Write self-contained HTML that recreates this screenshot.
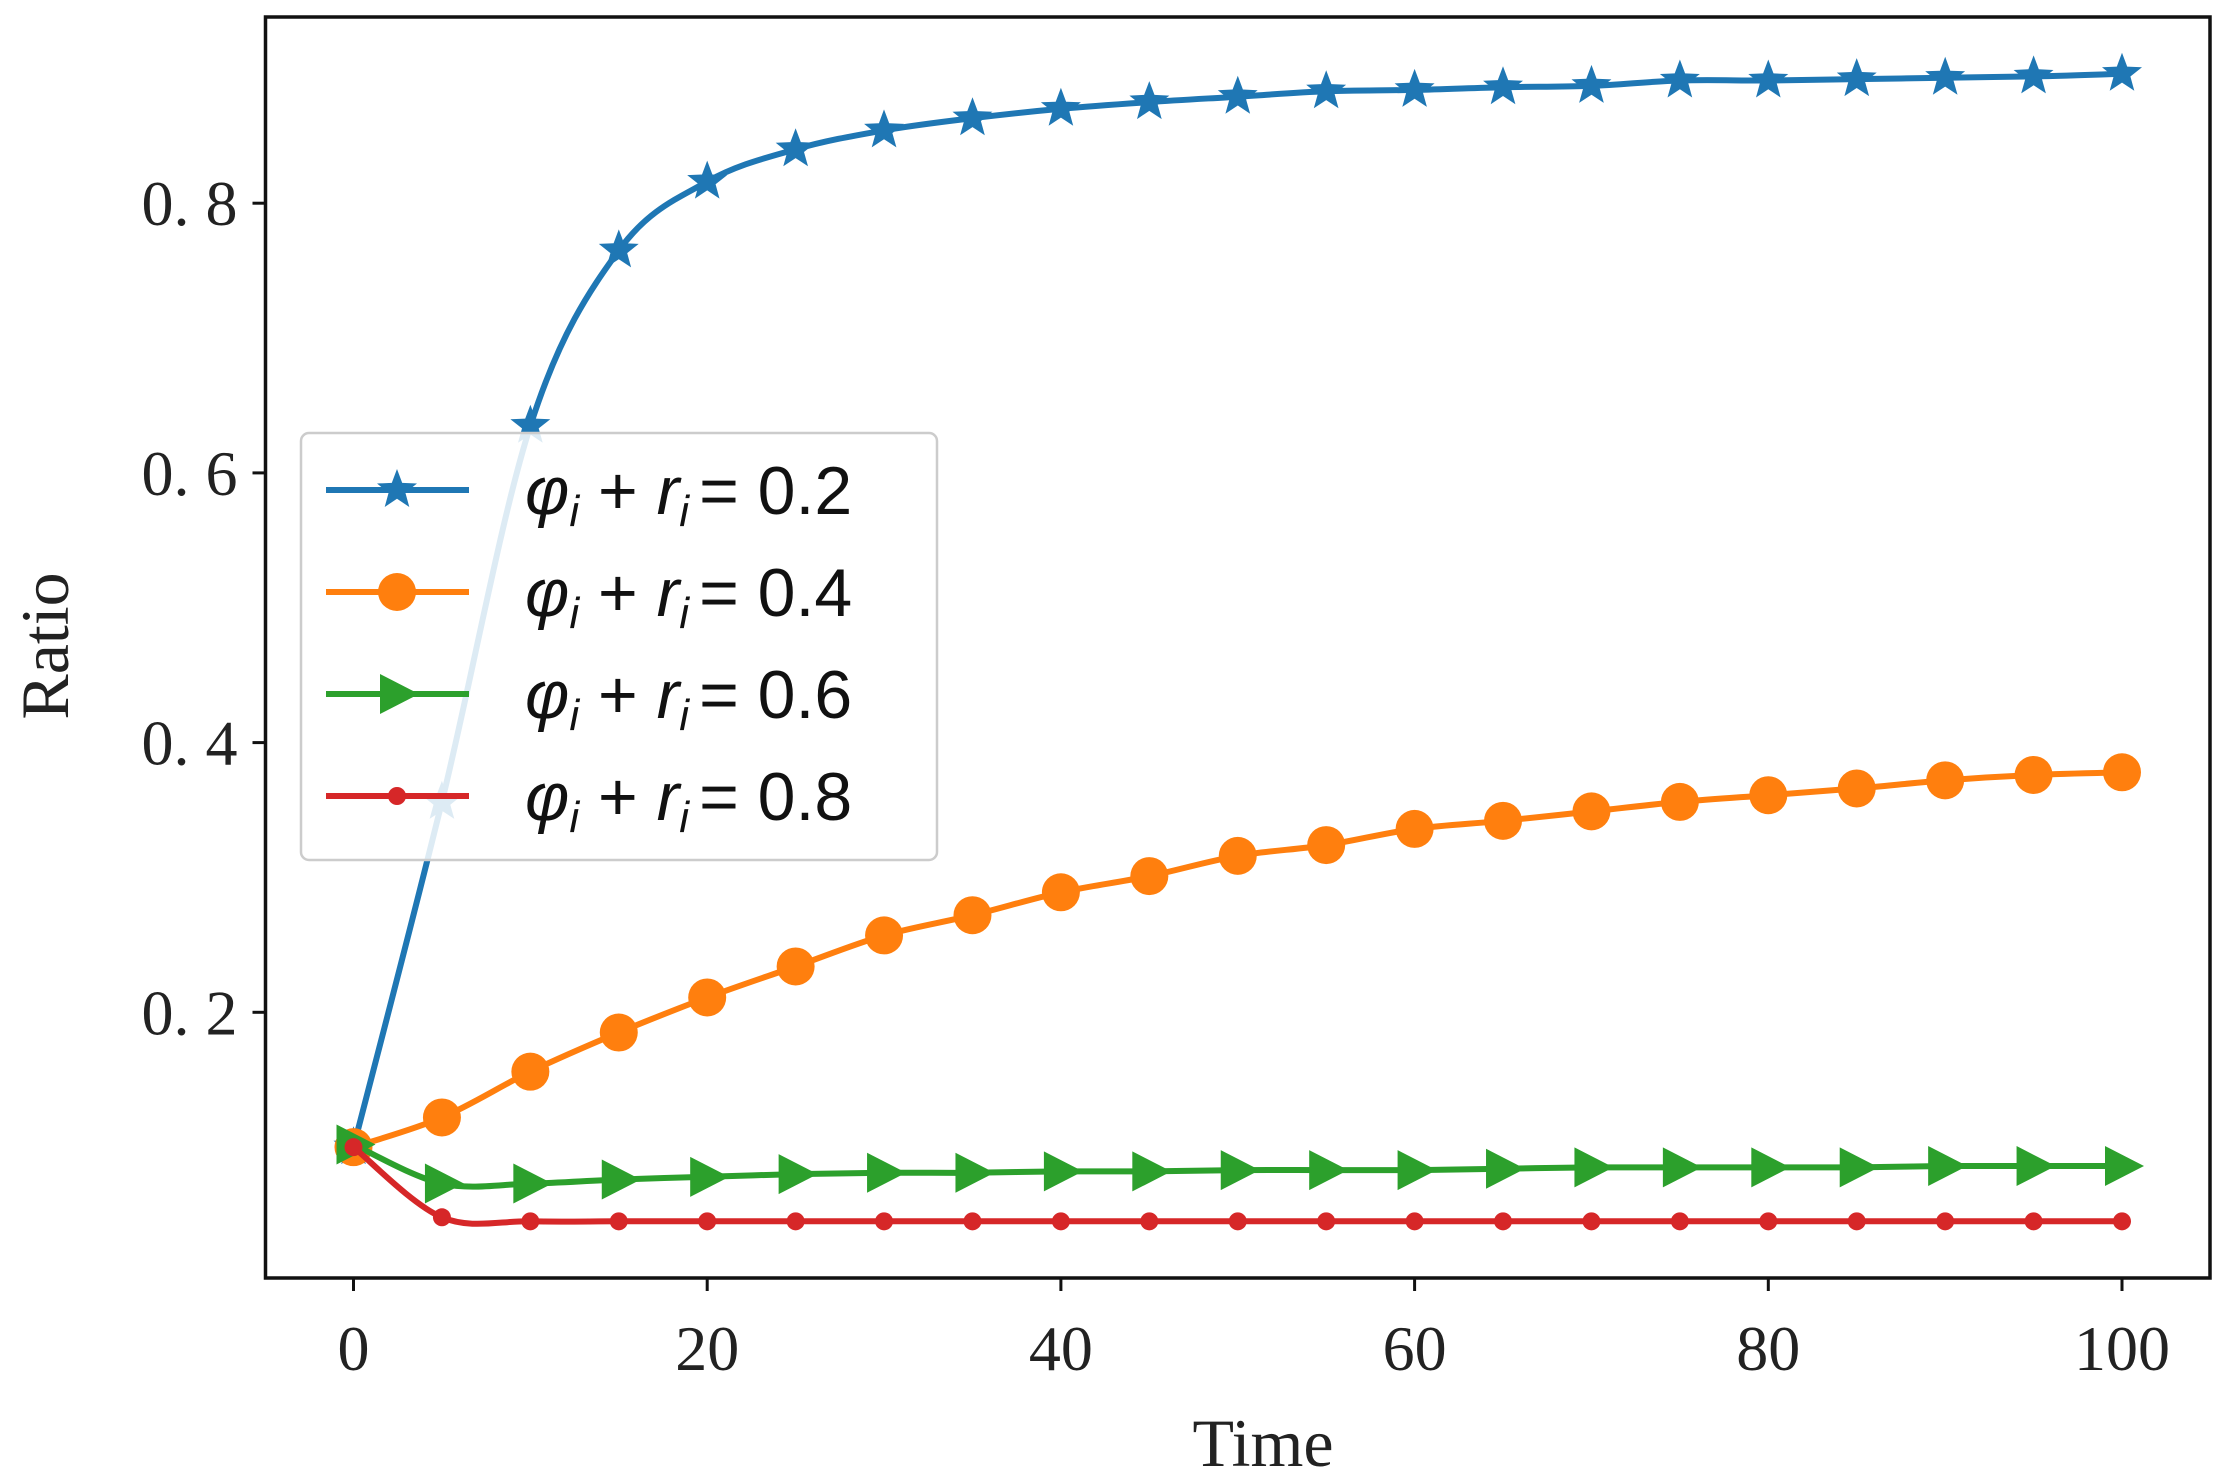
<!DOCTYPE html>
<html><head><meta charset="utf-8"><style>
html,body{margin:0;padding:0;background:#fff;}
svg{display:block;}
.tk{font-family:"Liberation Serif",serif;font-size:64px;fill:#222;}
.ax{font-family:"Liberation Serif",serif;font-size:68px;fill:#222;}
.lg{font-family:"Liberation Sans",sans-serif;font-size:68px;fill:#111;}
</style></head><body>
<svg id="chart" width="2226" height="1480" viewBox="0 0 2226 1480"></svg>
<script>
const times=[0,5,10,15,20,25,30,35,40,45,50,55,60,65,70,75,80,85,90,95,100];
const s02=[0.1,0.356,0.635,0.765,0.816,0.84,0.854,0.863,0.87,0.875,0.879,0.883,0.884,0.886,0.887,0.891,0.891,0.892,0.893,0.894,0.896];
const s04=[0.1,0.122,0.156,0.185,0.211,0.234,0.257,0.272,0.289,0.301,0.316,0.324,0.336,0.342,0.349,0.356,0.361,0.366,0.372,0.376,0.378];
const s06=[0.102,0.073,0.073,0.076,0.078,0.080,0.081,0.081,0.082,0.082,0.083,0.083,0.083,0.084,0.085,0.085,0.085,0.085,0.086,0.086,0.086];
const s08=[0.1,0.048,0.045,0.045,0.045,0.045,0.045,0.045,0.045,0.045,0.045,0.045,0.045,0.045,0.045,0.045,0.045,0.045,0.045,0.045,0.045];
const xTicks=[0,20,40,60,80,100];
const yTicks=[0.2,0.4,0.6,0.8];
const yTickLabels=["0. 2","0. 4","0. 6","0. 8"];
const legendLabels=["0.2","0.4","0.6","0.8"];

const NS="http://www.w3.org/2000/svg";
const svg=document.getElementById('chart');
const L=265.5,R=2210,T=17,B=1278;
const X=t=>353.5+(2122-353.5)*t/100;
const Y=v=>1282-(v)*1348.5;
function mk(tag,attrs,parent){const e=document.createElementNS(NS,tag);for(const k in attrs)e.setAttribute(k,attrs[k]);(parent||svg).appendChild(e);return e;}

const colors=["#1f77b4","#ff7f0e","#2ca02c","#d62728"];
const series=[s02,s04,s06,s08];
const names=["series-0-2","series-0-4","series-0-6","series-0-8"];
function starPts(cx,cy,r){let p=[];for(let i=0;i<10;i++){const a=-Math.PI/2+i*Math.PI/5;const rr=i%2?r*0.42:r;p.push((cx+rr*Math.cos(a)).toFixed(1)+","+(cy+rr*Math.sin(a)).toFixed(1));}return p.join(" ");}
function marker(k,cx,cy,g){
  let e;
  if(k===0)e=mk('polygon',{points:starPts(cx,cy,21),fill:colors[0]},g);
  else if(k===1)e=mk('circle',{cx:cx,cy:cy,r:19,fill:colors[1]},g);
  else if(k===2)e=mk('polygon',{points:`${cx-17},${cy-20} ${cx+22},${cy} ${cx-17},${cy+20}`,fill:colors[2]},g);
  else e=mk('circle',{cx:cx,cy:cy,r:9,fill:colors[3]},g);
  return e;
}
function smoothPath(s){
  const P=s.map((v,i)=>[X(times[i]),Y(v)]);
  let d="M"+P[0][0].toFixed(1)+","+P[0][1].toFixed(1);
  for(let i=0;i<P.length-1;i++){
    const p0=P[Math.max(0,i-1)],p1=P[i],p2=P[i+1],p3=P[Math.min(P.length-1,i+2)];
    const c1=[p1[0]+(p2[0]-p0[0])/6,p1[1]+(p2[1]-p0[1])/6];
    const c2=[p2[0]-(p3[0]-p1[0])/6,p2[1]-(p3[1]-p1[1])/6];
    d+=" C"+c1.map(n=>n.toFixed(1)).join(",")+" "+c2.map(n=>n.toFixed(1)).join(",")+" "+p2.map(n=>n.toFixed(1)).join(",");
  }
  return d;
}
series.forEach((s,k)=>{
  const g=mk('g',{});
  
  
  const pl=mk('path',{d:smoothPath(s),fill:'none',stroke:colors[k],'stroke-width':6,'stroke-linejoin':'round'},g);
  
  
  s.forEach((v,i)=>{const m=marker(k,X(times[i]),Y(v),g);
    
    });
});
const fr=mk('rect',{x:L,y:T,width:R-L,height:B-T,fill:'none',stroke:'#111','stroke-width':3.5});


xTicks.forEach(t=>{
  mk('line',{x1:X(t),x2:X(t),y1:B,y2:B+13,stroke:'#111','stroke-width':3});
  const tx=mk('text',{x:X(t),y:B+92,'text-anchor':'middle',class:'tk'});tx.textContent=t;
  
  
});
yTicks.forEach((v,i)=>{
  mk('line',{x1:L-13,x2:L,y1:Y(v),y2:Y(v),stroke:'#111','stroke-width':3});
  const tx=mk('text',{x:L-28,y:Y(v)+22,'text-anchor':'end',class:'tk'});tx.textContent=yTickLabels[i];
  
  
});
const xt=mk('text',{x:1263,y:1466,'text-anchor':'middle',class:'ax'});xt.textContent='Time';


const yt=mk('text',{x:0,y:0,'text-anchor':'middle',class:'ax',transform:'translate(68,646) rotate(-90)'});yt.textContent='Ratio';


const lg=mk('g',{});


mk('rect',{x:301,y:433,width:636,height:427,rx:8,fill:'#fff','fill-opacity':0.85,stroke:'#ccc','stroke-width':2.5},lg);
legendLabels.forEach((lab,k)=>{
  const y=490+k*102;
  const e=mk('g',{},lg);
  
  
  mk('line',{x1:326,x2:469,y1:y,y2:y,stroke:colors[k],'stroke-width':6},e);
  marker(k,397,y,e);
  const t=mk('text',{x:525,y:y+24,class:'lg'},e);
  t.innerHTML='<tspan font-style="italic">φ</tspan><tspan font-style="italic" font-size="44" dy="12">i</tspan><tspan dy="-12"> + </tspan><tspan font-style="italic">r</tspan><tspan font-style="italic" font-size="44" dy="12">i</tspan><tspan dy="-12" dx="10">= '+lab+'</tspan>';
});
</script>
</body></html>
